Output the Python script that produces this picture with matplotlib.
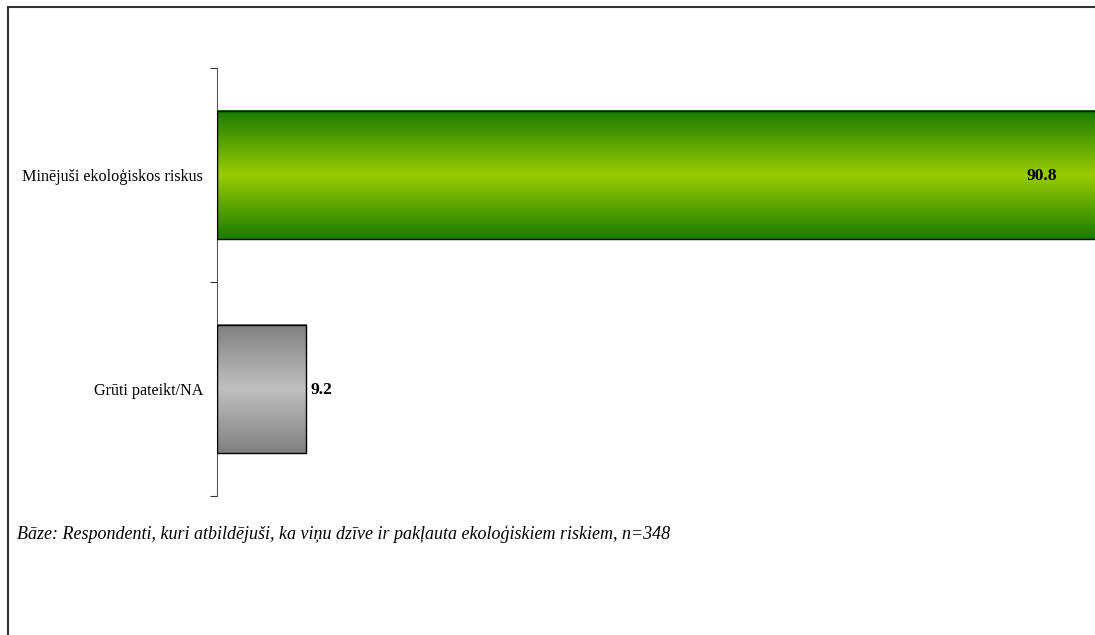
"""Horizontal bar chart: share of respondents who named ecological risks."""

import matplotlib.pyplot as plt
import numpy as np
from matplotlib.colors import LinearSegmentedColormap
from matplotlib.patches import Rectangle

categories = ["Minējuši ekoloģiskos riskus", "Grūti pateikt/NA"]
values = [90.8, 9.2]
footnote = ("Bāze: Respondenti, kuri atbildējuši, ka viņu dzīve ir pakļauta "
            "ekoloģiskiem riskiem, n=348")

GREEN = ["#1a7a00", "#99cc00", "#1a7a00"]
GREY = ["#7f7f7f", "#c0c0c0", "#7f7f7f"]

plt.rcParams["font.family"] = ["Liberation Serif", "DejaVu Serif"]

fig = plt.figure(figsize=(10.95, 6.35), dpi=100)
fig.patches.append(Rectangle((7.5 / 1095, -0.1), 1.2, 1 - 7.5 / 635 + 0.1,
                             transform=fig.transFigure, fill=False,
                             edgecolor="#333333", linewidth=1.5))

ax = fig.add_axes([217 / 1095, 1 - 496 / 635, 1 - 217 / 1095, 428 / 635])
ypos = np.arange(len(categories))
bars = ax.barh(ypos, values, height=0.6, facecolor="none",
               edgecolor="black", linewidth=1.0, zorder=3)

grad = np.linspace(0, 1, 256).reshape(-1, 1)
for bar, cols in zip(bars, [GREEN, GREY]):
    cmap = LinearSegmentedColormap.from_list("g", cols)
    x0, y0 = bar.get_x(), bar.get_y()
    w, h = bar.get_width(), bar.get_height()
    ax.imshow(grad, cmap=cmap, aspect="auto", zorder=2,
              extent=(x0, x0 + w, y0 + h, y0), interpolation="bicubic")

ax.annotate(f"{values[0]:.1f}", (values[0], ypos[0]), xytext=(-29.5, -1),
            textcoords="offset points", ha="right", va="center",
            fontsize=12.5, fontweight="bold", annotation_clip=False)
ax.annotate(f"{values[1]:.1f}", (values[1], ypos[1]), xytext=(3, -1),
            textcoords="offset points", ha="left", va="center",
            fontsize=12.5, fontweight="bold", annotation_clip=False)

ax.set_xlim(0, 90.5)
ax.set_ylim(len(categories) - 0.5, -0.5)
ax.set_yticks(np.arange(len(categories) + 1) - 0.5)
ax.set_yticklabels([])
ax.set_yticks(ypos, minor=True)
ax.set_yticklabels(categories, minor=True, fontsize=11.6)
ax.tick_params(axis="y", which="major", length=5, color="#333333")
ax.tick_params(axis="y", which="minor", length=0, pad=10)
ax.xaxis.set_visible(False)
for side in ["top", "right", "bottom"]:
    ax.spines[side].set_visible(False)
ax.spines["left"].set_color("#555555")

fig.text(17 / 1095, 1 - 534 / 635, footnote, fontsize=13, style="italic",
         va="center", ha="left")

fig.savefig("out.png", dpi=100)
